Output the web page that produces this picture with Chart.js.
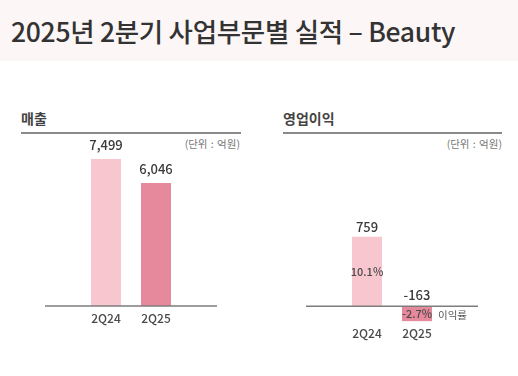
<!DOCTYPE html>
<html>
<head>
<meta charset="utf-8">
<script src="https://cdn.jsdelivr.net/npm/chart.js@4/dist/chart.umd.min.js"></script>
<style>
  body { margin: 0; width: 518px; height: 376px; background: #fff; position: relative; overflow: hidden;
         font-family: "Noto Sans CJK KR", "Noto Sans", sans-serif; }
  .band { position: absolute; left: 0; top: 0; width: 518px; height: 61px; background: #fcf6f6; }
  .title { position: absolute; left: 11px; top: 11px; font-size: 26.5px; font-weight: 500; color: #333; white-space: nowrap; letter-spacing: -0.3px; }
  .head { position: absolute; top: 108px; font-size: 14px; font-weight: bold; color: #444; }
  .rule { position: absolute; top: 132px; height: 1.5px; background: #8a8a8a; }
  .unit { position: absolute; top: 136px; font-size: 10.5px; color: #777; text-align: right; word-spacing: 1px; }
  canvas { position: absolute; top: 0; }
</style>
</head>
<body>
<div class="band"></div>
<div class="title">2025년 2분기 사업부문별 실적 – Beauty</div>

<div class="head" style="left:21px">매출</div>
<div class="rule" style="left:21px;width:220px"></div>
<div class="unit" style="left:140px;width:100px">(단위 : 억원)</div>

<div class="head" style="left:283px">영업이익</div>
<div class="rule" style="left:283px;width:219px"></div>
<div class="unit" style="left:402px;width:100px">(단위 : 억원)</div>

<canvas id="sales" width="259" height="376" style="left:0"></canvas>
<canvas id="profit" width="259" height="376" style="left:259px"></canvas>

<script>
// data
var quarters = ["2Q24", "2Q25"];
var sales = [7499, 6046];
var profit = [759, -163];
var margin = ["10.1%", "-2.7%"];
var marginName = "이익률";

var colors = ["#f7c6ce", "#e6899c"];

// labels + axis line
var barText = {
  id: "barText",
  afterDatasetsDraw: function (chart, args, o) {
    var ctx = chart.ctx;
    var bars = chart.getDatasetMeta(0).data;
    var vals = chart.data.datasets[0].data;
    var yBase = chart.scales.y.getPixelForValue(o.base);

    ctx.save();
    ctx.strokeStyle = "#7d7d7d";
    ctx.lineWidth = 1.5;
    ctx.beginPath();
    ctx.moveTo(o.lineFrom, yBase);
    ctx.lineTo(o.lineTo, yBase);
    ctx.stroke();

    var lowest = yBase;
    ctx.textAlign = "center";
    ctx.textBaseline = "alphabetic";
    ctx.font = "500 13px 'Noto Sans CJK KR'";
    ctx.fillStyle = "#3a3a3a";
    bars.forEach(function (b, i) {
      var v = vals[i];
      var y = v >= 0 ? b.y - o.gap : yBase - 6;
      ctx.fillText(v.toLocaleString("en-US"), b.x, y);
      lowest = Math.max(lowest, b.y, b.base);
    });

    if (o.inner) {
      ctx.font = "500 11px 'Noto Sans CJK KR'";
      ctx.fillStyle = "#4a4a4a";
      ctx.textBaseline = "middle";
      bars.forEach(function (b, i) {
        ctx.fillText(o.inner[i], b.x, (b.y + b.base) / 2 + 0.5);
      });
      var last = bars[bars.length - 1];
      ctx.textAlign = "left";
      ctx.font = "10.5px 'Noto Sans CJK KR'";
      ctx.fillStyle = "#555";
      ctx.fillText(o.innerName, last.x + 21, (last.y + last.base) / 2 + 1);
    }

    ctx.textAlign = "center";
    ctx.textBaseline = "middle";
    ctx.font = "500 12px 'Noto Sans CJK KR'";
    ctx.fillStyle = "#4a4a4a";
    bars.forEach(function (b, i) {
      ctx.fillText(chart.data.labels[i], b.x, lowest + 12.5);
    });
    ctx.restore();
  }
};

function makeChart(id, values, pad, yMin, yMax, textOpts) {
  return new Chart(document.getElementById(id), {
    type: "bar",
    data: {
      labels: quarters,
      datasets: [{
        data: values,
        base: textOpts.base,
        backgroundColor: colors,
        borderWidth: 0,
        barPercentage: 1,
        categoryPercentage: 0.6
      }]
    },
    options: {
      responsive: false,
      animation: false,
      devicePixelRatio: 1,
      layout: { padding: pad },
      plugins: { legend: { display: false }, tooltip: { enabled: false }, barText: textOpts },
      scales: {
        x: { display: false },
        y: { display: false, min: yMin, max: yMax }
      }
    },
    plugins: [barText]
  });
}

makeChart("sales", sales, { left: 81, right: 78, top: 149, bottom: 70 }, -1400, 8100,
  { base: -1400, gap: 9, lineFrom: 45, lineTo: 217 });

makeChart("profit", profit, { left: 83, right: 76, top: 169, bottom: 24 }, -500, 1500,
  { base: 0, gap: 4.5, lineFrom: 47, lineTo: 219, inner: margin, innerName: marginName });
</script>
</body>
</html>
